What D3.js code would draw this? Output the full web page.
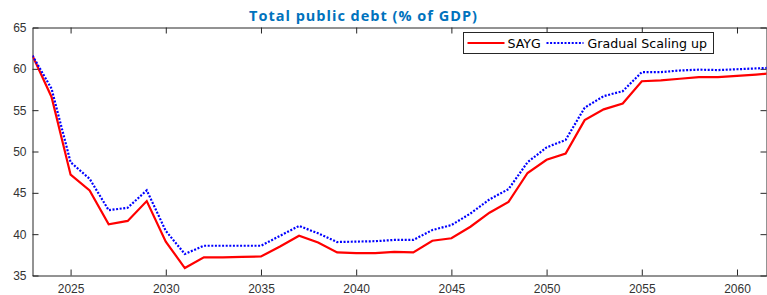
<!DOCTYPE html>
<html>
<head>
<meta charset="utf-8">
<script src="https://cdn.jsdelivr.net/npm/d3@7"></script>
<style>
body { margin:0; background:#fff; }
.axis path, .axis line { stroke:#262626; }
.axis text { fill:#333; font-family:"Liberation Sans", Arial, sans-serif; font-size:12px; }
.title { fill:#0072BD; font-family:"Open Sans", sans-serif; font-weight:bold; font-size:14.5px; letter-spacing:1px; }
.legend text { fill:#000; font-family:"DejaVu Sans", sans-serif; font-size:12.6px; }
</style>
</head>
<body>
<svg class="graph1"></svg>
<script>
// years on the x axis
var years = d3.range(2023, 2063);

// SAYG (red, solid)
var sayg = [61.6, 56.6, 47.2, 45.3, 41.2, 41.6, 44.0, 39.1, 35.9, 37.2,
            37.2, 37.25, 37.3, 38.5, 39.8, 39.0, 37.8, 37.7, 37.7, 37.85,
            37.8, 39.2, 39.5, 40.9, 42.6, 43.9, 47.4, 49.0, 49.75, 53.8,
            55.1, 55.8, 58.5, 58.6, 58.8, 59.0, 59.0, 59.15, 59.3, 59.5];

// Gradual Scaling up (blue, dotted)
var gradual = [61.6, 57.6, 48.7, 46.7, 42.9, 43.2, 45.3, 40.4, 37.6, 38.6,
               38.6, 38.6, 38.6, 39.8, 41.0, 40.1, 39.05, 39.1, 39.15, 39.3,
               39.3, 40.5, 41.1, 42.5, 44.2, 45.45, 48.7, 50.5, 51.4, 55.3,
               56.7, 57.3, 59.6, 59.6, 59.8, 59.9, 59.85, 59.95, 60.05, 60.15];

var xTicks = [2025, 2030, 2035, 2040, 2045, 2050, 2055, 2060];
var yTicks = [35, 40, 45, 50, 55, 60, 65];

var legendNames = ["SAYG", "Gradual Scaling up"];

var screen = {width:767, height:295};
var margins = {left:32.5, right:0.5, top:27.5, bottom:19.5};
var graph = {
    width:screen.width-margins.left-margins.right,
    height:screen.height-margins.top-margins.bottom
};

var svg = d3.select(".graph1")
    .attr("width", screen.width)
    .attr("height", screen.height);

var xScale = d3.scaleLinear()
    .domain([2023, 2061.55])
    .range([0, graph.width]);

var yScale = d3.scaleLinear()
    .domain([35, 65])
    .range([graph.height, 0]);

var target = svg.append("g")
    .attr("transform", "translate("+margins.left+","+margins.top+")");

svg.append("defs").append("clipPath")
    .attr("id", "clip")
    .append("rect")
    .attr("width", graph.width)
    .attr("height", graph.height);

// axes, ticks pointing inward
target.append("g").classed("axis", true)
    .attr("transform", "translate(0,"+graph.height+")")
    .call(d3.axisBottom(xScale).tickValues(xTicks).tickSizeInner(-6).tickSizeOuter(0).tickPadding(9).tickFormat(d3.format("d")));

target.append("g").classed("axis", true)
    .call(d3.axisTop(xScale).tickValues(xTicks).tickSizeInner(-6).tickSizeOuter(0).tickFormat(""));

target.append("g").classed("axis", true)
    .call(d3.axisLeft(yScale).tickValues(yTicks).tickSizeInner(-6).tickSizeOuter(0).tickPadding(6));

target.append("g").classed("axis", true)
    .attr("transform", "translate("+graph.width+",0)")
    .call(d3.axisRight(yScale).tickValues(yTicks).tickSizeInner(-6).tickSizeOuter(0).tickFormat(""));

var line = d3.line()
    .x(function(d, i){ return xScale(years[i]); })
    .y(function(d){ return yScale(d); });

var lines = target.append("g").attr("clip-path", "url(#clip)");

lines.append("path")
    .datum(sayg)
    .attr("d", line)
    .attr("fill", "none")
    .attr("stroke", "#FF0000")
    .attr("stroke-width", 2.2);

lines.append("path")
    .datum(gradual)
    .attr("d", line)
    .attr("fill", "none")
    .attr("stroke", "#0000FF")
    .attr("stroke-width", 2.2)
    .attr("stroke-dasharray", "2,1.6");

// title
svg.append("text")
    .classed("title", true)
    .attr("text-anchor", "middle")
    .attr("x", 363.5)
    .attr("y", 21)
    .text("Total public debt (% of GDP)");

// legend
var legend = svg.append("g").classed("legend", true)
    .attr("transform", "translate(463.5,32.5)");

legend.append("rect")
    .attr("width", 250)
    .attr("height", 21)
    .attr("fill", "#fff")
    .attr("stroke", "#262626");

var legendX = [[4, 41, 44], [83, 120, 124]];
var legendStyle = [{c:"#FF0000", d:null}, {c:"#0000FF", d:"2,1.6"}];

legendNames.forEach(function(name, i){
    legend.append("line")
        .attr("x1", legendX[i][0]).attr("x2", legendX[i][1])
        .attr("y1", 10.5).attr("y2", 10.5)
        .attr("stroke", legendStyle[i].c)
        .attr("stroke-width", 2.2)
        .attr("stroke-dasharray", legendStyle[i].d);
    legend.append("text")
        .attr("x", legendX[i][2])
        .attr("y", 15)
        .text(name);
});
</script>
</body>
</html>
